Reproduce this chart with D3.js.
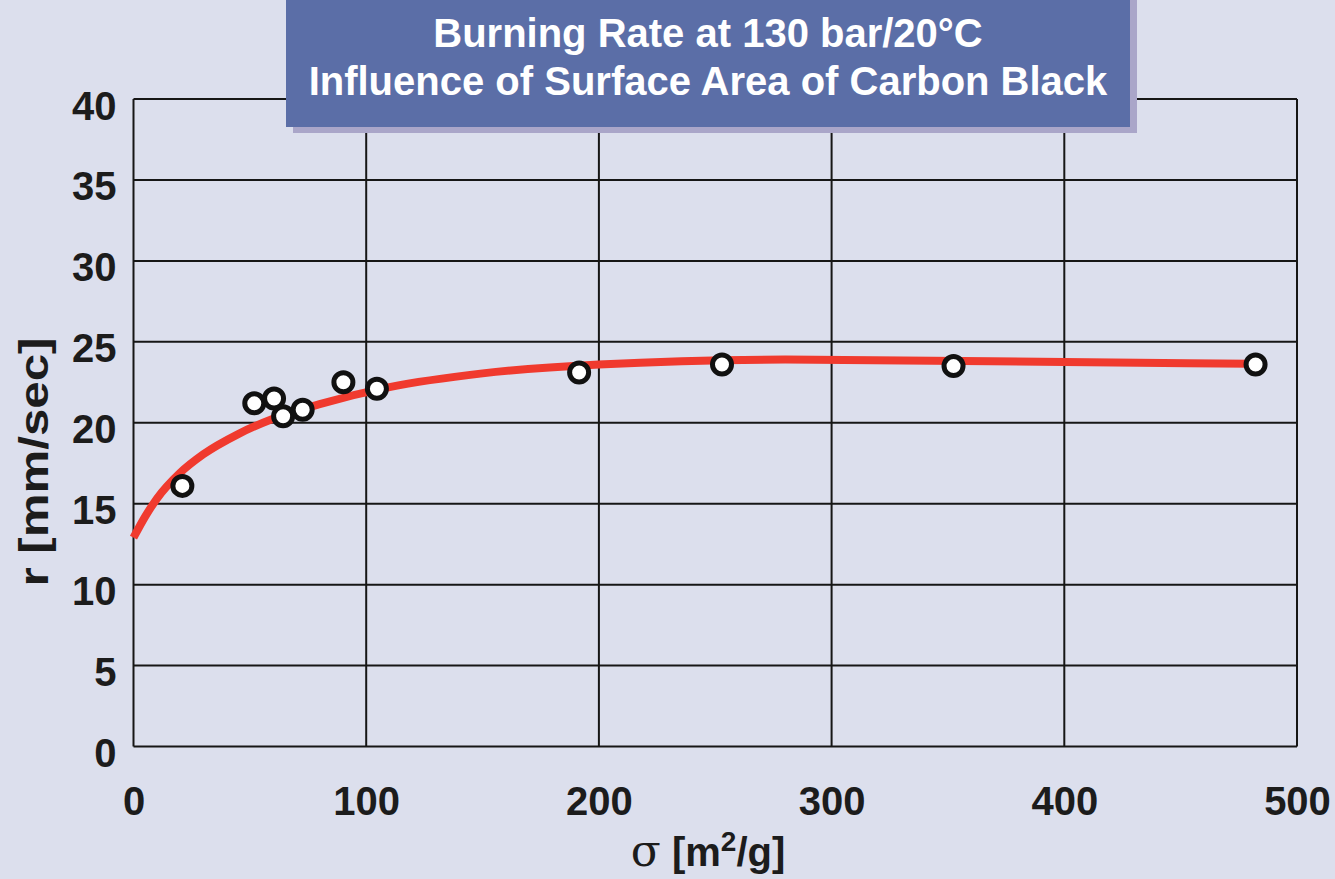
<!DOCTYPE html>
<html>
<head>
<meta charset="utf-8">
<script src="https://cdn.jsdelivr.net/npm/d3@7/dist/d3.min.js"></script>
<style>
  html, body { margin: 0; padding: 0; background: #dcdfed; }
  svg { display: block; }
  text { font-family: "Liberation Sans", Arial, Helvetica, sans-serif; }
</style>
</head>
<body>
<svg id="chart" width="1335" height="879"></svg>
<script>
// Measured burning rates (r, mm/sec) vs. specific surface area (sigma, m2/g)
const sigmaValues = [21.0, 51.9, 60.4, 64.3, 72.7, 90.2, 104.6, 191.5, 252.9, 352.4, 482.2];
const rateValues  = [16.1, 21.2, 21.5, 20.4, 20.8, 22.5, 22.1, 23.1, 23.6, 23.5, 23.6];

// Fitted trend curve
const fitSigma = [0, 5, 10, 20, 30, 45, 60, 80, 110, 150, 200, 280, 400, 480];
const fitRate  = [12.9, 14.2, 15.3, 16.9, 18.05, 19.3, 20.25, 21.15, 22.2, 23.05, 23.6, 23.9, 23.76, 23.64];

const xTicks = [0, 100, 200, 300, 400, 500];
const yTicks = [0, 5, 10, 15, 20, 25, 30, 35, 40];

const titleLines = ["Burning Rate at 130 bar/20\u00B0C", "Influence of Surface Area of Carbon Black"];

const svg = d3.select("#chart");
const plot = { left: 133.5, right: 1297, top: 99, bottom: 746.5 };

const x = d3.scaleLinear().domain([0, 500]).range([plot.left, plot.right]);
const y = d3.scaleLinear().domain([0, 40]).range([plot.bottom, plot.top]);

// background
svg.append("rect").attr("width", 1335).attr("height", 879).attr("fill", "#dcdfed");

// grid
const grid = svg.append("g").attr("stroke", "#161616").attr("stroke-width", 2);
grid.selectAll("line.v").data(xTicks).join("line").attr("class", "v")
  .attr("x1", d => x(d)).attr("x2", d => x(d))
  .attr("y1", plot.top).attr("y2", plot.bottom);
grid.selectAll("line.h").data(yTicks).join("line").attr("class", "h")
  .attr("x1", plot.left).attr("x2", plot.right)
  .attr("y1", d => y(d)).attr("y2", d => y(d));

// axes (labels only; grid lines provide the frame)
const xAxis = svg.append("g")
  .attr("transform", `translate(0,${plot.bottom})`)
  .call(d3.axisBottom(x).tickValues(xTicks).tickSize(0).tickPadding(0).tickFormat(d3.format("d")));
xAxis.select(".domain").remove();
xAxis.selectAll("text")
  .attr("y", 68).attr("dy", 0)
  .attr("fill", "#1c1c1c").attr("font-size", 40).attr("font-weight", "bold")
  .attr("font-family", "'Liberation Sans', Arial, sans-serif");

const yAxis = svg.append("g")
  .attr("transform", `translate(${plot.left},0)`)
  .call(d3.axisLeft(y).tickValues(yTicks).tickSize(0).tickPadding(0).tickFormat(d3.format("d")));
yAxis.select(".domain").remove();
yAxis.selectAll("text")
  .attr("x", -17).attr("dy", 20)
  .attr("fill", "#1c1c1c").attr("font-size", 40).attr("font-weight", "bold")
  .attr("font-family", "'Liberation Sans', Arial, sans-serif");

// axis titles
const xt = svg.append("text")
  .attr("x", 708).attr("y", 866)
  .attr("text-anchor", "middle").attr("fill", "#1c1c1c")
  .attr("font-size", 40).attr("font-weight", "bold");
xt.append("tspan").attr("font-family", "'DejaVu Serif', 'Liberation Serif', serif").attr("font-weight", "normal").attr("font-size", 44).text("\u03C3");
xt.append("tspan").text(" [m");
xt.append("tspan").attr("font-size", 28).attr("dy", -15).text("2");
xt.append("tspan").attr("dy", 15).text("/g]");

svg.append("text")
  .attr("transform", "translate(48,462) rotate(-90)")
  .attr("text-anchor", "middle").attr("fill", "#1c1c1c")
  .attr("font-size", 40).attr("font-weight", "bold")
  .attr("textLength", 249).attr("lengthAdjust", "spacingAndGlyphs")
  .text("r [mm/sec]");

// trend curve
const line = d3.line().x((d, i) => x(fitSigma[i])).y((d, i) => y(fitRate[i])).curve(d3.curveMonotoneX);
svg.append("path")
  .datum(fitRate)
  .attr("d", line)
  .attr("fill", "none").attr("stroke", "#f03a2e").attr("stroke-width", 8);

// measured points
svg.append("g").selectAll("circle")
  .data(sigmaValues)
  .join("circle")
  .attr("cx", d => x(d))
  .attr("cy", (d, i) => y(rateValues[i]))
  .attr("r", 9.5)
  .attr("fill", "#ffffff").attr("stroke", "#111111").attr("stroke-width", 5);

// title banner
svg.append("rect").attr("x", 293).attr("y", -10).attr("width", 844).attr("height", 143).attr("fill", "#aaa6c9");
svg.append("rect").attr("x", 286).attr("y", -10).attr("width", 844).attr("height", 137).attr("fill", "#5b6ea7");
svg.append("g").selectAll("text")
  .data(titleLines)
  .join("text")
  .attr("x", 708).attr("y", (d, i) => 47 + i * 48)
  .attr("text-anchor", "middle").attr("fill", "#ffffff")
  .attr("font-size", 40).attr("font-weight", "bold")
  .text(d => d);
</script>
</body>
</html>
